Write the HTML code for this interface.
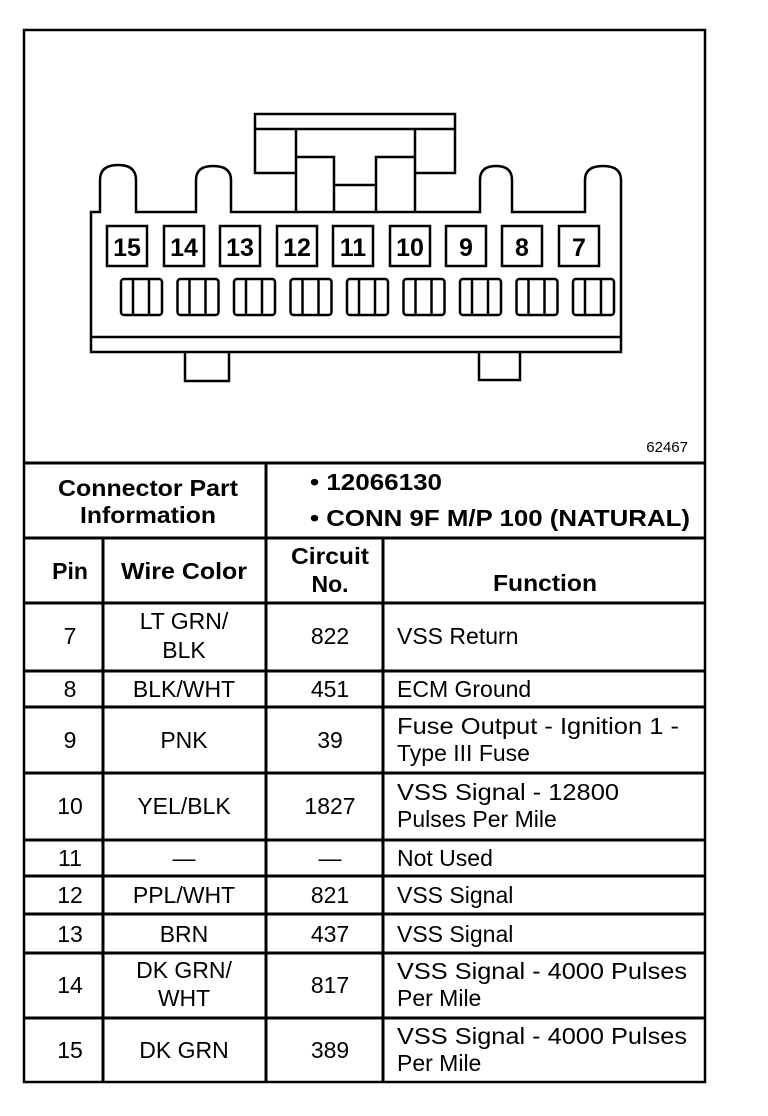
<!DOCTYPE html>
<html><head><meta charset="utf-8"><style>
html,body{margin:0;padding:0;background:#fff;}
svg{display:block;}
text{font-family:"Liberation Sans",Arial,sans-serif;fill:#000;}
.b{font-weight:bold;font-size:23px;}
.r{font-size:23px;}
</style></head><body>
<svg width="768" height="1116" viewBox="0 0 768 1116" xmlns="http://www.w3.org/2000/svg">
<g fill="none" stroke="#000" stroke-width="2.5">
<rect x="24" y="30" width="681" height="1052"/>
<path d="M91 352 L91 212 L100 212 L100 180 Q100 165 118 165 Q136 165 136 180 L136 212 L196 212 L196 180 Q196 166 213 166 Q231 166 231 180 L231 212 L480 212 L480 180 Q480 166 496 166 Q512 166 512 180 L512 212 L585 212 L585 180 Q585 166 603 166 Q621 166 621 180 L621 352 Z"/>
<line x1="91" y1="337" x2="621" y2="337"/>
<path d="M296 173 L255 173 L255 114 L455 114 L455 173 L415 173"/>
<line x1="255" y1="129" x2="455" y2="129"/>
<line x1="296" y1="129" x2="296" y2="212"/>
<line x1="415" y1="129" x2="415" y2="212"/>
<path d="M296 157 L334 157 L334 212 M415 157 L376 157 L376 212 M334 185 L376 185"/>
<path d="M185 352 L185 381 L229 381 L229 352"/>
<path d="M479 352 L479 380 L520 380 L520 352"/>
</g>
<g fill="none" stroke="#000" stroke-width="2.5">
<rect x="107" y="226" width="40" height="40"/>
<rect x="164" y="226" width="40" height="40"/>
<rect x="220" y="226" width="40" height="40"/>
<rect x="277" y="226" width="40" height="40"/>
<rect x="333" y="226" width="40" height="40"/>
<rect x="390" y="226" width="40" height="40"/>
<rect x="446" y="226" width="40" height="40"/>
<rect x="502" y="226" width="40" height="40"/>
<rect x="559" y="226" width="40" height="40"/>
</g>
<g text-anchor="middle" style="font-size:25px;font-weight:bold">
<text x="127" y="256">15</text>
<text x="184" y="256">14</text>
<text x="240" y="256">13</text>
<text x="297" y="256">12</text>
<text x="353" y="256">11</text>
<text x="410" y="256">10</text>
<text x="466" y="256">9</text>
<text x="522" y="256">8</text>
<text x="579" y="256">7</text>
</g>
<g fill="none" stroke="#000" stroke-width="2.5">
<g id="t"><rect x="121" y="279" width="41" height="36" rx="3"/><line x1="133" y1="279" x2="133" y2="315"/><line x1="149" y1="279" x2="149" y2="315"/></g>
<use href="#t" x="56.5"/><use href="#t" x="113"/><use href="#t" x="169.5"/><use href="#t" x="226"/><use href="#t" x="282.5"/><use href="#t" x="339"/><use href="#t" x="395.5"/><use href="#t" x="452"/>
</g>
<text x="688" y="452" text-anchor="end" style="font-size:15px">62467</text>
<g stroke="#000" stroke-width="3">
<line x1="24" y1="463" x2="705" y2="463"/>
<line x1="24" y1="538" x2="705" y2="538"/>
<line x1="24" y1="603" x2="705" y2="603"/>
<line x1="24" y1="671" x2="705" y2="671"/>
<line x1="24" y1="707" x2="705" y2="707"/>
<line x1="24" y1="773" x2="705" y2="773"/>
<line x1="24" y1="840" x2="705" y2="840"/>
<line x1="24" y1="876" x2="705" y2="876"/>
<line x1="24" y1="914" x2="705" y2="914"/>
<line x1="24" y1="953" x2="705" y2="953"/>
<line x1="24" y1="1018" x2="705" y2="1018"/>
<line x1="266" y1="463" x2="266" y2="1082"/>
<line x1="103" y1="538" x2="103" y2="1082"/>
<line x1="383" y1="538" x2="383" y2="1082"/>
</g>
<g class="b" text-anchor="middle">
<text x="148" y="496" textLength="180" lengthAdjust="spacingAndGlyphs">Connector Part</text>
<text x="148" y="523" textLength="136" lengthAdjust="spacingAndGlyphs">Information</text>
<text x="70" y="579">Pin</text>
<text x="184" y="579" textLength="126" lengthAdjust="spacingAndGlyphs">Wire Color</text>
<text x="330" y="564" textLength="78" lengthAdjust="spacingAndGlyphs">Circuit</text>
<text x="330" y="592">No.</text>
<text x="545" y="591" textLength="104" lengthAdjust="spacingAndGlyphs">Function</text>
</g>
<g class="b">
<text x="310" y="490" textLength="132" lengthAdjust="spacingAndGlyphs">• 12066130</text>
<text x="310" y="526" textLength="380" lengthAdjust="spacingAndGlyphs">• CONN 9F M/P 100 (NATURAL)</text>
</g>
<g class="r" text-anchor="middle">
<text x="70" y="644">7</text><text x="184" y="629">LT GRN/</text><text x="184" y="658">BLK</text><text x="330" y="644">822</text>
<text x="70" y="697">8</text><text x="184" y="697">BLK/WHT</text><text x="330" y="697">451</text>
<text x="70" y="748">9</text><text x="184" y="748">PNK</text><text x="330" y="748">39</text>
<text x="70" y="814">10</text><text x="184" y="814">YEL/BLK</text><text x="330" y="814">1827</text>
<text x="70" y="866">11</text><text x="184" y="866">—</text><text x="330" y="866">—</text>
<text x="70" y="903">12</text><text x="184" y="903">PPL/WHT</text><text x="330" y="903">821</text>
<text x="70" y="942">13</text><text x="184" y="942">BRN</text><text x="330" y="942">437</text>
<text x="70" y="993">14</text><text x="184" y="978">DK GRN/</text><text x="184" y="1006">WHT</text><text x="330" y="993">817</text>
<text x="70" y="1058">15</text><text x="184" y="1058">DK GRN</text><text x="330" y="1058">389</text>
</g>
<g class="r">
<text x="397" y="644">VSS Return</text>
<text x="397" y="697">ECM Ground</text>
<text x="397" y="734" textLength="282" lengthAdjust="spacingAndGlyphs">Fuse Output - Ignition 1 -</text>
<text x="397" y="761">Type III Fuse</text>
<text x="397" y="800" textLength="222" lengthAdjust="spacingAndGlyphs">VSS Signal - 12800</text>
<text x="397" y="827">Pulses Per Mile</text>
<text x="397" y="866">Not Used</text>
<text x="397" y="903">VSS Signal</text>
<text x="397" y="942">VSS Signal</text>
<text x="397" y="979" textLength="290" lengthAdjust="spacingAndGlyphs">VSS Signal - 4000 Pulses</text>
<text x="397" y="1006">Per Mile</text>
<text x="397" y="1044" textLength="290" lengthAdjust="spacingAndGlyphs">VSS Signal - 4000 Pulses</text>
<text x="397" y="1071">Per Mile</text>
</g>
</svg>
</body></html>
